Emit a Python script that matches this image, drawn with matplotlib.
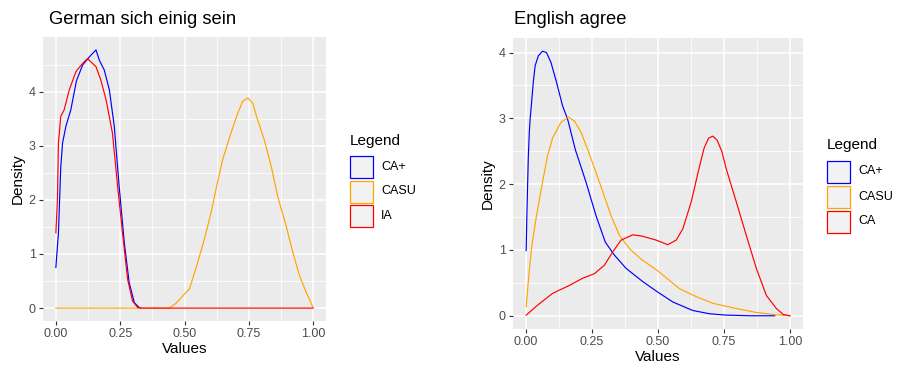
import matplotlib
matplotlib.use("Agg")
import matplotlib.pyplot as plt
from matplotlib.patches import Rectangle

plt.rcParams['font.family'] = ['Liberation Sans', 'DejaVu Sans']

# ---------------- data ----------------
left_title = "German sich einig sein"
right_title = "English agree"
x_ticks = [0.0, 0.25, 0.5, 0.75, 1.0]
x_ticklabels = ["0.00", "0.25", "0.50", "0.75", "1.00"]
left_yticks = [0, 1, 2, 3, 4]
right_yticks = [0, 1, 2, 3, 4]
left_labels = ["CA+", "CASU", "IA"]
right_labels = ["CA+", "CASU", "CA"]
colors = ["blue", "orange", "red"]

# Left panel: German "sich einig sein"
de_caplus_x = [0.0, 0.010, 0.019, 0.026, 0.039, 0.058, 0.080, 0.104, 0.130, 0.156,
               0.169, 0.188, 0.208, 0.227, 0.246, 0.266, 0.285, 0.305, 0.324, 0.33]
de_caplus_y = [0.75, 1.39, 2.60, 3.05, 3.36, 3.66, 4.20, 4.49, 4.64, 4.77,
               4.58, 4.40, 4.03, 3.36, 2.25, 1.21, 0.47, 0.10, 0.01, 0.0]

de_casu_x = [0.0, 0.10, 0.20, 0.30, 0.40, 0.441, 0.467, 0.506, 0.519, 0.551, 0.577,
             0.603, 0.625, 0.648, 0.681, 0.707, 0.726, 0.746, 0.765, 0.784, 0.810,
             0.837, 0.862, 0.895, 0.921, 0.947, 0.973, 0.999]
de_casu_y = [0.0, 0.0, 0.0, 0.0, 0.0, 0.0, 0.09, 0.29, 0.35, 0.84, 1.27,
             1.76, 2.25, 2.74, 3.24, 3.60, 3.82, 3.88, 3.79, 3.48, 3.11,
             2.62, 2.07, 1.52, 1.03, 0.60, 0.29, 0.02]

de_ia_x = [0.0, 0.006, 0.010, 0.019, 0.032, 0.052, 0.078, 0.104, 0.123, 0.136,
           0.156, 0.175, 0.195, 0.220, 0.240, 0.259, 0.279, 0.298, 0.318, 0.33,
           0.50, 0.75, 1.0]
de_ia_y = [1.39, 2.00, 3.05, 3.54, 3.66, 4.03, 4.37, 4.52, 4.61, 4.55,
           4.46, 4.21, 3.85, 3.23, 2.25, 1.39, 0.53, 0.13, 0.01, 0.0,
           0.0, 0.0, 0.0]

# Right panel: English "agree"
en_caplus_x = [0.0, 0.002, 0.005, 0.008, 0.012, 0.015, 0.020, 0.027, 0.034, 0.046,
               0.062, 0.077, 0.094, 0.115, 0.138, 0.157, 0.176, 0.186, 0.227, 0.265,
               0.300, 0.335, 0.379, 0.442, 0.499, 0.556, 0.632, 0.696, 0.759, 0.85,
               0.943]
en_caplus_y = [0.99, 1.42, 1.92, 2.40, 2.80, 2.99, 3.22, 3.55, 3.80, 3.95,
               4.02, 4.00, 3.85, 3.55, 3.19, 2.99, 2.69, 2.53, 2.03, 1.52,
               1.12, 0.92, 0.72, 0.52, 0.36, 0.21, 0.08, 0.03, 0.01, 0.0,
               0.0]

en_casu_x = [0.0, 0.008, 0.020, 0.039, 0.062, 0.081, 0.100, 0.132, 0.160, 0.183,
             0.208, 0.233, 0.278, 0.322, 0.354, 0.392, 0.436, 0.500, 0.582, 0.645,
             0.708, 0.797, 0.873, 0.937, 1.0]
en_casu_y = [0.14, 0.52, 1.02, 1.52, 2.03, 2.43, 2.70, 2.94, 3.02, 2.96,
             2.79, 2.53, 2.03, 1.52, 1.22, 1.02, 0.86, 0.68, 0.41, 0.29,
             0.19, 0.11, 0.05, 0.02, 0.0]

en_ca_x = [0.0, 0.043, 0.100, 0.163, 0.214, 0.259, 0.297, 0.328, 0.360, 0.404,
           0.440, 0.493, 0.537, 0.569, 0.594, 0.626, 0.655, 0.675, 0.692, 0.708,
           0.724, 0.742, 0.759, 0.797, 0.835, 0.873, 0.911, 0.949, 0.975, 1.0]
en_ca_y = [0.01, 0.16, 0.34, 0.46, 0.57, 0.64, 0.77, 0.97, 1.15, 1.23,
           1.21, 1.15, 1.08, 1.15, 1.32, 1.73, 2.23, 2.55, 2.70, 2.73,
           2.67, 2.50, 2.23, 1.73, 1.22, 0.72, 0.31, 0.11, 0.02, 0.0]

# ---------------- figure ----------------
W, H = 898, 371
fig = plt.figure(figsize=(W / 100, H / 100), dpi=100)

def px_axes(x0, y0, x1, y1):
    return fig.add_axes([x0 / W, 1 - y1 / H, (x1 - x0) / W, (y1 - y0) / H])

def style(ax, ymax, yticks):
    ax.set_facecolor("#EBEBEB")
    for s in ax.spines.values():
        s.set_visible(False)
    ax.set_xlim(-0.05, 1.05)
    ymin = -0.05 * ymax
    ax.set_ylim(ymin, ymax * 1.05)
    ax.set_xticks(x_ticks)
    ax.set_xticklabels(x_ticklabels)
    ax.set_yticks(yticks)
    ax.set_xticks([0.125, 0.375, 0.625, 0.875], minor=True)
    ax.set_yticks([v + 0.5 for v in yticks if v + 0.5 < ymax * 1.05], minor=True)
    ax.grid(True, which="major", color="white", lw=1.1)
    ax.grid(True, which="minor", color="white", lw=0.55)
    ax.set_axisbelow(True)
    ax.tick_params(which="major", length=3.2, width=0.8, color="#333333",
                   labelsize=9, labelcolor="#4D4D4D", pad=2)
    ax.tick_params(which="minor", length=0)
    ax.set_xlabel("Values", fontsize=11, labelpad=1)
    ax.set_ylabel("Density", fontsize=11, labelpad=3)

def legend(x, ytitle, ykeys, labels):
    fig.text(x / W, 1 - ytitle / H, "Legend", fontsize=11, ha="left", va="center")
    for yk, lab, c in zip(ykeys, labels, colors):
        fig.add_artist(Rectangle((x / W, 1 - (yk + 22) / H), 23 / W, 22 / H,
                                 transform=fig.transFigure, facecolor="#F2F2F2",
                                 edgecolor=c, lw=0.9))
        fig.text((x + 31) / W, 1 - (yk + 11) / H, lab, fontsize=9, ha="left", va="center")

lw = 0.85

ax1 = px_axes(43, 37, 326, 321)
ax1.plot(de_caplus_x, de_caplus_y, color=colors[0], lw=lw)
ax1.plot(de_casu_x, de_casu_y, color=colors[1], lw=lw)
ax1.plot(de_ia_x, de_ia_y, color=colors[2], lw=lw)
style(ax1, max(de_caplus_y), left_yticks)
fig.text(49 / W, 1 - 20 / H, left_title, fontsize=13.2, ha="left", va="center")
legend(350, 141, [156, 180.5, 205], left_labels)

ax2 = px_axes(513, 38, 803, 329)
ax2.plot(en_caplus_x, en_caplus_y, color=colors[0], lw=lw)
ax2.plot(en_casu_x, en_casu_y, color=colors[1], lw=lw)
ax2.plot(en_ca_x, en_ca_y, color=colors[2], lw=lw)
style(ax2, max(en_caplus_y), right_yticks)
fig.text(514 / W, 1 - 20 / H, right_title, fontsize=13.2, ha="left", va="center")
legend(827, 145, [160.5, 185.5, 210.5], right_labels)

fig.savefig("out.png", dpi=100)
